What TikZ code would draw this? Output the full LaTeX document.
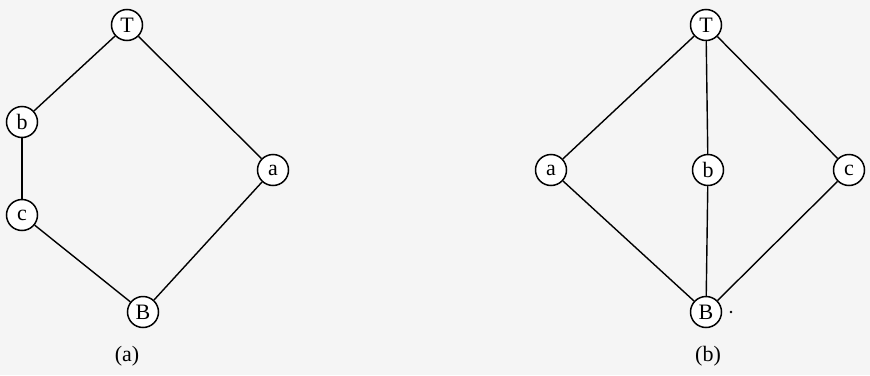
\documentclass[tikz,border=0pt]{standalone}
\usepackage{fontspec}
\setmainfont{Liberation Serif}
\begin{document}
\begin{tikzpicture}[x=1pt,y=-1pt,
  vtx/.style={circle,draw,line width=1.5pt,minimum size=31pt,inner sep=0pt,font=\fontsize{22}{24}\selectfont,fill=white},
  edge/.style={line width=1.4pt},
  sublabel/.style={font=\fontsize{22}{24}\selectfont}]
\fill[black!4] (0,0) rectangle (870,375);
\useasboundingbox (0,0) rectangle (870,375);
% (a)
\node[vtx] (T1) at (127,25) {T};
\node[vtx] (b1) at (22,122) {b};
\node[vtx] (c1) at (22,215) {c};
\node[vtx] (a1) at (273,170) {a};
\node[vtx] (B1) at (143,312) {B};
\draw[edge] (T1) -- (b1);
\draw[edge] (b1) -- (c1);
\draw[edge] (c1) -- (B1);
\draw[edge] (T1) -- (a1);
\draw[edge] (a1) -- (B1);
\node[sublabel] (la) at (127,356) {(a)};
% (b)
\node[vtx] (T2) at (706,25) {T};
\node[vtx] (a2) at (551,170) {a};
\node[vtx] (b2) at (708,170) {b};
\node[vtx] (c2) at (849,170) {c};
\node[vtx] (B2) at (706,312) {B};
\draw[edge] (T2) -- (a2);
\draw[edge] (T2) -- (b2);
\draw[edge] (T2) -- (c2);
\draw[edge] (a2) -- (B2);
\draw[edge] (b2) -- (B2);
\draw[edge] (c2) -- (B2);
\fill (731,312) circle (1.4pt);
\node[sublabel] (lb) at (708,356) {(b)};
\end{tikzpicture}
\end{document}
